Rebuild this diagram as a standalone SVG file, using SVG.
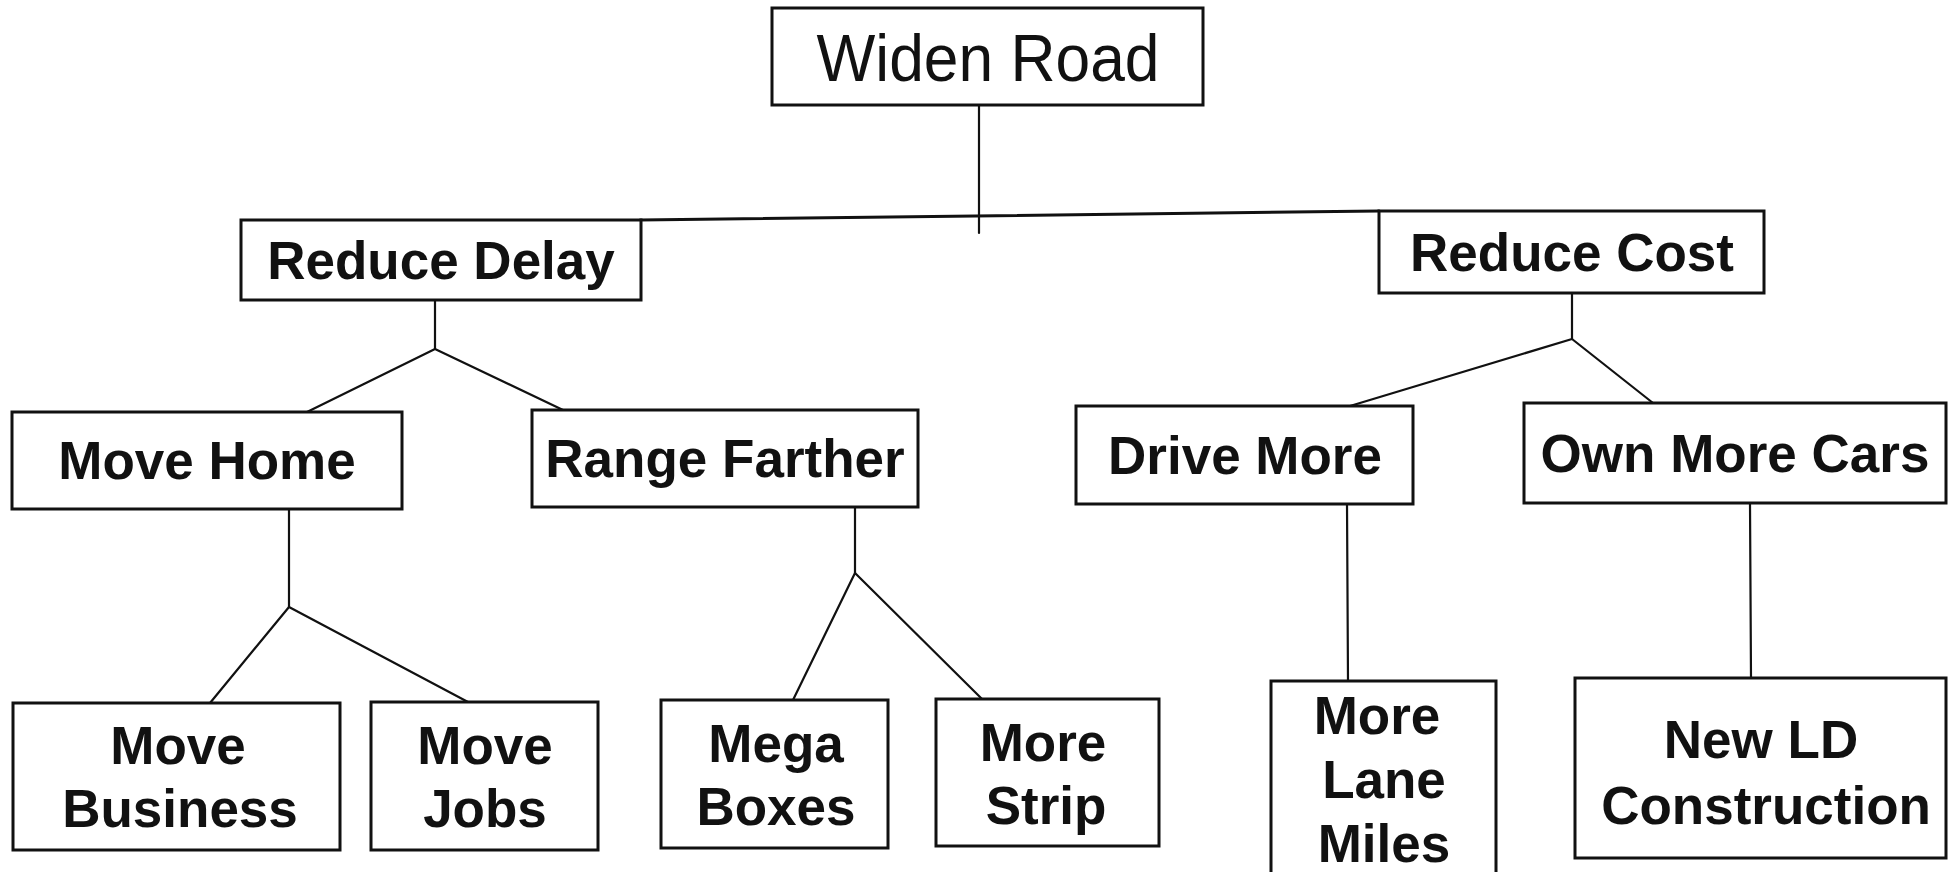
<svg xmlns="http://www.w3.org/2000/svg" width="1956" height="872" viewBox="0 0 1956 872">
<style>
.box{fill:#fff;stroke:#111;stroke-width:3}
.lbl{font-family:"Liberation Sans",Arial,Helvetica,sans-serif;font-weight:bold;font-size:53px;fill:#111;text-anchor:middle}
.top{font-family:"Liberation Sans",Arial,Helvetica,sans-serif;font-size:66px;fill:#111;text-anchor:middle}
.con{fill:none;stroke:#111;stroke-width:2.2;stroke-linecap:round;stroke-linejoin:round}
</style>
<rect x="0" y="0" width="1956" height="872" fill="#fff"/>
<g id="connectors">
<line class="con" x1="979" y1="105" x2="979" y2="233"/>
<line class="con" x1="640" y1="220" x2="1379" y2="211" style="stroke-width:3"/>
<polyline class="con" points="435,300 435,349"/>
<polyline class="con" points="307,412 435,349 563,410"/>
<polyline class="con" points="289,509 289,607"/>
<polyline class="con" points="210,703 289,607 468,702"/>
<polyline class="con" points="855,507 855,573"/>
<polyline class="con" points="793,700 855,573 982,699"/>
<polyline class="con" points="1572,293 1572,339"/>
<polyline class="con" points="1350,406 1572,339 1653,403"/>
<polyline class="con" points="1347,504 1348,681"/>
<polyline class="con" points="1750,503 1751,678"/>
</g>
<g id="widen-road"><rect class="box" x="772" y="8" width="431" height="97"/><text class="top" x="988" y="81" textLength="343" lengthAdjust="spacingAndGlyphs">Widen Road</text></g>
<g id="reduce-delay"><rect class="box" x="241" y="220" width="400" height="80"/><text class="lbl" x="441" y="279">Reduce Delay</text></g>
<g id="reduce-cost"><rect class="box" x="1379" y="211" width="385" height="82"/><text class="lbl" x="1572" y="271">Reduce Cost</text></g>
<g id="move-home"><rect class="box" x="12" y="412" width="390" height="97"/><text class="lbl" x="207" y="479">Move Home</text></g>
<g id="range-farther"><rect class="box" x="532" y="410" width="386" height="97"/><text class="lbl" x="725" y="477">Range Farther</text></g>
<g id="drive-more"><rect class="box" x="1076" y="406" width="337" height="98"/><text class="lbl" x="1245" y="474">Drive More</text></g>
<g id="own-more-cars"><rect class="box" x="1524" y="403" width="422" height="100"/><text class="lbl" x="1735" y="472">Own More Cars</text></g>
<g id="move-business"><rect class="box" x="13" y="703" width="327" height="147"/><text class="lbl" x="178" y="764">Move</text><text class="lbl" x="180" y="827">Business</text></g>
<g id="move-jobs"><rect class="box" x="371" y="702" width="227" height="148"/><text class="lbl" x="485" y="764">Move</text><text class="lbl" x="485" y="827">Jobs</text></g>
<g id="mega-boxes"><rect class="box" x="661" y="700" width="227" height="148"/><text class="lbl" x="776" y="762">Mega</text><text class="lbl" x="776" y="825">Boxes</text></g>
<g id="more-strip"><rect class="box" x="936" y="699" width="223" height="147"/><text class="lbl" x="1043" y="761">More</text><text class="lbl" x="1046" y="824">Strip</text></g>
<g id="more-lane-miles"><rect class="box" x="1271" y="681" width="225" height="200"/><text class="lbl" x="1377" y="734">More</text><text class="lbl" x="1384" y="798">Lane</text><text class="lbl" x="1384" y="862">Miles</text></g>
<g id="new-ld-construction"><rect class="box" x="1575" y="678" width="371" height="180"/><text class="lbl" x="1761" y="758">New LD</text><text class="lbl" x="1766" y="824">Construction</text></g>
</svg>
